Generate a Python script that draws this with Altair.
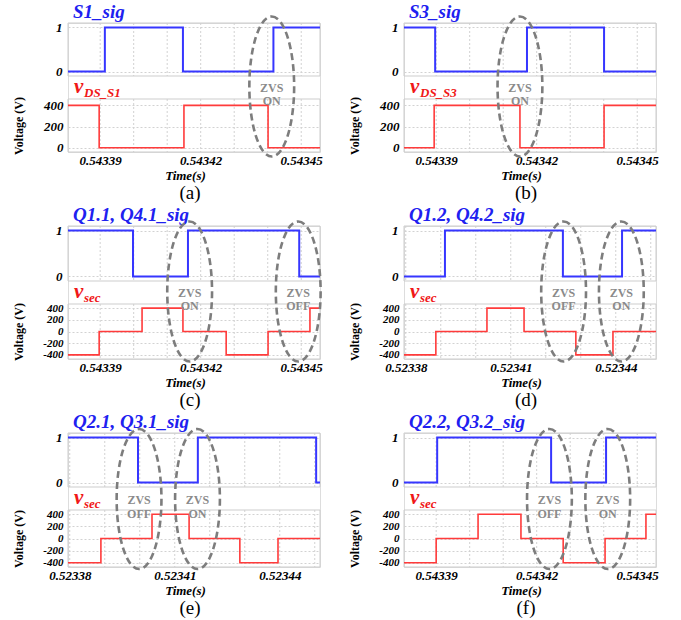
import altair as alt
import pandas as pd

FONT = "Liberation Serif"
BLUE = "#3636ff"
RED = "#ff3b3b"
GRID = "#d2d2d2"
FRAME = "#cdcdcd"
ELL = "#7d7d7d"
ZVSC = "#8a8a8a"

# ---------------- data ----------------
DOM_54 = [0.5433804, 0.5434556]
DOM_52 = [0.5233795, 0.5234515]
TICKS_54 = [0.54339, 0.54342, 0.54345]
TICKS_52 = [0.52338, 0.52341, 0.52344]
GRID_54 = [0.54339, 0.54340, 0.54341, 0.54342, 0.54343, 0.54344, 0.54345]
GRID_52 = [0.52338, 0.52339, 0.52340, 0.52341, 0.52342, 0.52343, 0.52344, 0.52345]
SIG_DOM = [-0.1, 1.1]
SIG_TICKS = [0, 1]
VDS_DOM = [-40, 460]
VDS_TICKS = [0, 200, 400]
SEC_DOM = [-470, 470]
SEC_TICKS = [-400, -200, 0, 200, 400]

A_SIG_T = [0.5433804, 0.5433914, 0.5434147, 0.5434417, 0.5434556]
A_SIG_V = [0, 1, 0, 1, 1]
A_VDS_T = [0.5433804, 0.5433897, 0.5434150, 0.5434401, 0.5434556]
A_VDS_V = [400, 0, 400, 0, 0]
A_ZVS_T = [0.5434412]
A_ZVS_L = ["ZVS\nON"]

B_SIG_T = [0.5433804, 0.5433897, 0.5434171, 0.5434401, 0.5434556]
B_SIG_V = [1, 0, 1, 0, 0]
B_VDS_T = [0.5433804, 0.5433894, 0.5434150, 0.5434401, 0.5434556]
B_VDS_V = [0, 400, 0, 400, 400]
B_ZVS_T = [0.5434150]
B_ZVS_L = ["ZVS\nON"]

C_SIG_T = [0.5433804, 0.5433998, 0.5434162, 0.5434494, 0.5434556]
C_SIG_V = [1, 0, 1, 0, 0]
C_SEC_T = [0.5433804, 0.5433897, 0.5434025, 0.5434147, 0.5434276, 0.5434401, 0.5434526, 0.5434556]
C_SEC_V = [-400, 0, 400, 0, -400, 0, 400, 400]
C_ZVS_T = [0.5434167, 0.5434491]
C_ZVS_L = ["ZVS\nON", "ZVS\nOFF"]

D_SIG_T = [0.5233795, 0.5233912, 0.5234249, 0.5234418, 0.5234515]
D_SIG_V = [0, 1, 0, 1, 1]
D_SEC_T = [0.5233795, 0.5233886, 0.5234032, 0.5234138, 0.5234286, 0.5234392, 0.5234515]
D_SEC_V = [-400, 0, 400, 0, -400, 0, 0]
D_ZVS_T = [0.5234251, 0.5234416]
D_ZVS_L = ["ZVS\nOFF", "ZVS\nON"]

E_SIG_T = [0.5233795, 0.5233995, 0.5234166, 0.5234504, 0.5234515]
E_SIG_V = [1, 0, 1, 0, 0]
E_SEC_T = [0.5233795, 0.5233889, 0.5234035, 0.5234141, 0.5234286, 0.5234395, 0.5234515]
E_SEC_V = [-400, 0, 400, 0, -400, 0, 0]
E_ZVS_T = [0.5233998, 0.5234165]
E_ZVS_L = ["ZVS\nOFF", "ZVS\nON"]

F_SIG_T = [0.5433804, 0.5433903, 0.5434243, 0.5434407, 0.5434556]
F_SIG_V = [0, 1, 0, 1, 1]
F_SEC_T = [0.5433804, 0.5433900, 0.5434025, 0.5434153, 0.5434279, 0.5434404, 0.5434526, 0.5434556]
F_SEC_V = [-400, 0, 400, 0, -400, 0, 400, 400]
F_ZVS_T = [0.5434238, 0.5434412]
F_ZVS_L = ["ZVS\nOFF", "ZVS\nON"]

SIG_TITLES = ["S1_sig", "S3_sig", "Q1.1, Q4.1_sig", "Q1.2, Q4.2_sig", "Q2.1, Q3.1_sig", "Q2.2, Q3.2_sig"]
V_SUBS = ["DS_S1", "DS_S3", "sec", "sec", "sec", "sec"]
LETTERS = ["(a)", "(b)", "(c)", "(d)", "(e)", "(f)"]

# ---------------- layout constants ----------------
W = 252
ROW_H = [129, 133, 134]
SIG_H = [53, 55, 54]
VOLT_TOP = [76, 78, 77]
ELLIPSE = "M 0 -1 A 0.32 1 0 1 1 0 1 A 0.32 1 0 1 1 0 -1 Z"


def lab_font(size=13):
    return dict(labelFont=FONT, labelFontSize=size, labelFontStyle="italic",
                labelFontWeight="bold", labelColor="black", labelOverlap=False,
                labelExpr="'' + datum.value")


def panel(i, row, dom, sig_t, sig_v, v_t, v_v, vdom, vticks, grid_t, ticks, zt, zl):
    H = ROW_H[row]
    SH = SIG_H[row]
    VT = VOLT_TOP[row]
    xs = alt.Scale(domain=dom, nice=False, zero=False)
    ys = alt.Scale(domain=SIG_DOM, range=[SH, 0], nice=False, zero=False)
    yv = alt.Scale(domain=vdom, range=[H, VT], nice=False, zero=False)
    one = pd.DataFrame({"k": [0]})
    grid_df = pd.DataFrame({"t": grid_t})
    vsize = 13 if len(vticks) <= 3 else 11

    sig_axis = alt.Axis(values=SIG_TICKS, title=None, orient="left", domain=False, ticks=False,
                        grid=True, gridColor=GRID, gridDash=[2, 2], labelPadding=6,
                        **lab_font())
    v_axis = alt.Axis(values=vticks, title="Voltage (V)", orient="left", domain=False, ticks=False,
                      grid=True, gridColor=GRID, gridDash=[2, 2], labelPadding=5,
                      titleFont=FONT, titleFontSize=12, titleFontWeight="bold", titleColor="black",
                      titleX=-43, titleBaseline="bottom", titleAngle=270,
                      **lab_font(vsize))
    x_axis = alt.Axis(values=ticks, format=".5f", title="Time(s)", grid=False, domain=False,
                      ticks=False, labelPadding=2, labelFlush=False, labelOverlap=False,
                      labelFont=FONT, labelFontSize=13, labelFontStyle="italic",
                      labelFontWeight="bold", labelColor="black",
                      titleFont=FONT, titleFontSize=13, titleFontStyle="italic",
                      titleFontWeight="bold", titleColor="black", titlePadding=2, titleX=117)
    X = lambda: alt.X("t:Q", scale=xs, axis=x_axis)

    # signal sub-plot
    s_grid = alt.Chart(grid_df).mark_rule(color=GRID, strokeDash=[2, 2]).encode(
        x=X(), y=alt.YDatum(SIG_DOM[1], scale=ys, axis=sig_axis), y2=alt.Y2Datum(SIG_DOM[0]))
    s_frame = alt.Chart(one).mark_rect(fill="transparent", stroke=FRAME, strokeWidth=1).encode(
        x=alt.XDatum(dom[0], scale=xs, axis=x_axis), x2=alt.X2Datum(dom[1]),
        y=alt.YDatum(SIG_DOM[1], scale=ys, axis=sig_axis), y2=alt.Y2Datum(SIG_DOM[0]))
    s_line = alt.Chart(pd.DataFrame({"t": sig_t, "v": sig_v})).mark_line(
        interpolate="step-after", color=BLUE, strokeWidth=2).encode(
        x=X(), y=alt.Y("v:Q", scale=ys, axis=sig_axis))
    sig_layer = alt.layer(s_grid, s_frame, s_line)

    # voltage sub-plot
    v_grid = alt.Chart(grid_df).mark_rule(color=GRID, strokeDash=[2, 2]).encode(
        x=X(), y=alt.YDatum(vdom[1], scale=yv, axis=v_axis), y2=alt.Y2Datum(vdom[0]))
    v_frame = alt.Chart(one).mark_rect(fill="transparent", stroke=FRAME, strokeWidth=1).encode(
        x=alt.XDatum(dom[0], scale=xs, axis=x_axis), x2=alt.X2Datum(dom[1]),
        y=alt.YDatum(vdom[1], scale=yv, axis=v_axis), y2=alt.Y2Datum(vdom[0]))
    v_line = alt.Chart(pd.DataFrame({"t": v_t, "v": v_v})).mark_line(
        interpolate="step-after", color=RED, strokeWidth=1.6).encode(
        x=X(), y=alt.Y("v:Q", scale=yv, axis=v_axis))
    volt_layer = alt.layer(v_grid, v_frame, v_line)

    # titles of the sub-plots
    s_title = alt.Chart(one).mark_text(
        text=SIG_TITLES[i], font=FONT, fontSize=19, fontStyle="italic", fontWeight="bold",
        color="#2020f0", align="left", baseline="alphabetic").encode(
        x=alt.value(5), y=alt.value(-5))
    v_big = alt.Chart(one).mark_text(
        text="v", font=FONT, fontSize=21, fontStyle="italic", fontWeight="bold",
        color="#f01818", align="left", baseline="alphabetic").encode(
        x=alt.value(6), y=alt.value(VT - 6))
    v_sub = alt.Chart(one).mark_text(
        text=V_SUBS[i], font=FONT, fontSize=13, fontStyle="italic", fontWeight="bold",
        color="#f01818", align="left", baseline="alphabetic").encode(
        x=alt.value(16), y=alt.value(VT - 2))

    # ZVS annotations
    zdf = pd.DataFrame({"t": zt, "l": zl})
    ell = alt.Chart(zdf).mark_point(
        shape=ELLIPSE, size=19600, filled=False, color=ELL, opacity=1,
        strokeWidth=2.6, strokeDash=[7, 4]).encode(
        x=X(), y=alt.value(H / 2 - 1))
    ztxt = alt.Chart(zdf).mark_text(
        font=FONT, fontSize=12, fontWeight="bold", color=ZVSC, lineBreak="\n",
        lineHeight=13.5, align="center", baseline="middle").encode(
        x=X(), y=alt.value(H / 2), text="l:N")

    return alt.layer(sig_layer, volt_layer, s_title, v_big, v_sub, ell, ztxt).resolve_scale(
        y="independent").properties(
        width=W, height=H,
        title=alt.TitleParams(LETTERS[i], orient="bottom", anchor="middle", font=FONT,
                              fontSize=19, fontWeight="normal", color="black", offset=2, dx=-4))


panels = [
    panel(0, 0, DOM_54, A_SIG_T, A_SIG_V, A_VDS_T, A_VDS_V, VDS_DOM, VDS_TICKS, GRID_54, TICKS_54, A_ZVS_T, A_ZVS_L),
    panel(1, 0, DOM_54, B_SIG_T, B_SIG_V, B_VDS_T, B_VDS_V, VDS_DOM, VDS_TICKS, GRID_54, TICKS_54, B_ZVS_T, B_ZVS_L),
    panel(2, 1, DOM_54, C_SIG_T, C_SIG_V, C_SEC_T, C_SEC_V, SEC_DOM, SEC_TICKS, GRID_54, TICKS_54, C_ZVS_T, C_ZVS_L),
    panel(3, 1, DOM_52, D_SIG_T, D_SIG_V, D_SEC_T, D_SEC_V, SEC_DOM, SEC_TICKS, GRID_52, TICKS_52, D_ZVS_T, D_ZVS_L),
    panel(4, 2, DOM_52, E_SIG_T, E_SIG_V, E_SEC_T, E_SEC_V, SEC_DOM, SEC_TICKS, GRID_52, TICKS_52, E_ZVS_T, E_ZVS_L),
    panel(5, 2, DOM_54, F_SIG_T, F_SIG_V, F_SEC_T, F_SEC_V, SEC_DOM, SEC_TICKS, GRID_54, TICKS_54, F_ZVS_T, F_ZVS_L),
]

chart = alt.concat(*panels, columns=2, spacing={"row": 74, "column": 84},
                   bounds="flush", align="each").properties(
    padding={"left": 11, "top": 2, "right": 0, "bottom": 0},
    background="white",
).configure_view(stroke=None).configure(font=FONT)

chart.save("out.html", embed_options={"renderer": "svg", "actions": False})
